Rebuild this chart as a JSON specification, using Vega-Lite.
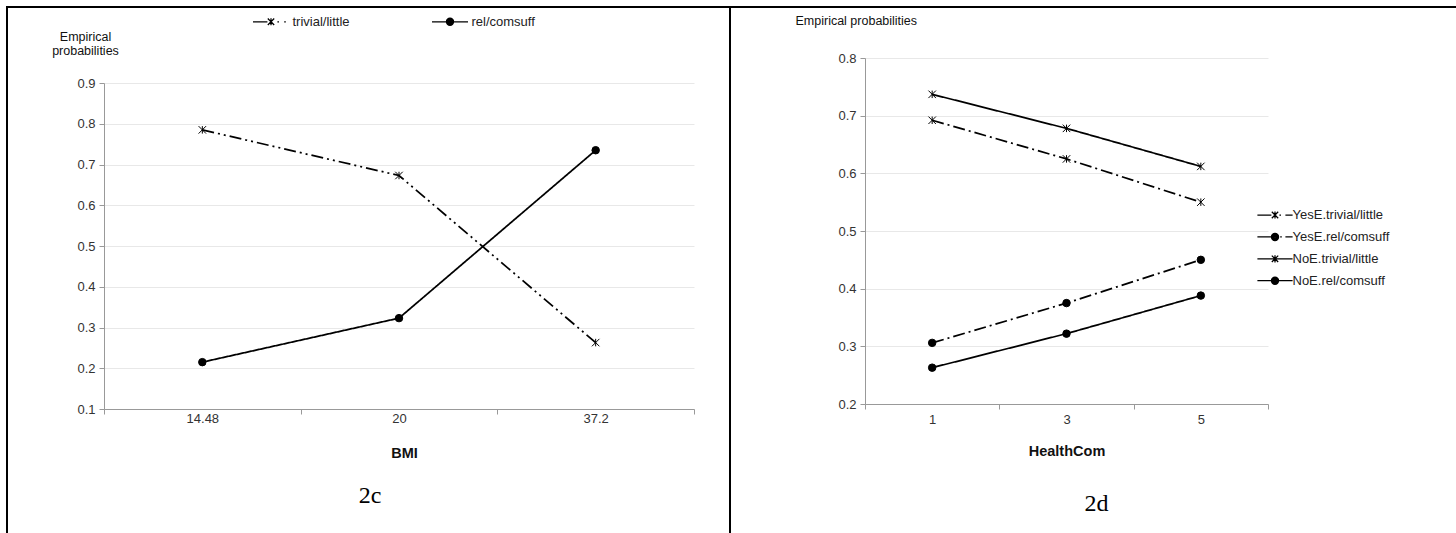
{
  "$schema": "https://vega.github.io/schema/vega-lite/v6.json",
  "background": "white",
  "padding": {"left": 6, "top": 6, "right": 0, "bottom": 0},
  "datasets": {
    "left": [
      {"BMI": 14.48, "series": "trivial/little", "p": 0.785},
      {"BMI": 20, "series": "trivial/little", "p": 0.673},
      {"BMI": 37.2, "series": "trivial/little", "p": 0.263},
      {"BMI": 14.48, "series": "rel/comsuff", "p": 0.215},
      {"BMI": 20, "series": "rel/comsuff", "p": 0.323},
      {"BMI": 37.2, "series": "rel/comsuff", "p": 0.735}
    ],
    "right": [
      {"HealthCom": 1, "group": "YesE.trivial/little", "p": 0.692},
      {"HealthCom": 3, "group": "YesE.trivial/little", "p": 0.625},
      {"HealthCom": 5, "group": "YesE.trivial/little", "p": 0.55},
      {"HealthCom": 1, "group": "YesE.rel/comsuff", "p": 0.306},
      {"HealthCom": 3, "group": "YesE.rel/comsuff", "p": 0.375},
      {"HealthCom": 5, "group": "YesE.rel/comsuff", "p": 0.45},
      {"HealthCom": 1, "group": "NoE.trivial/little", "p": 0.737},
      {"HealthCom": 3, "group": "NoE.trivial/little", "p": 0.678},
      {"HealthCom": 5, "group": "NoE.trivial/little", "p": 0.612},
      {"HealthCom": 1, "group": "NoE.rel/comsuff", "p": 0.263},
      {"HealthCom": 3, "group": "NoE.rel/comsuff", "p": 0.322},
      {"HealthCom": 5, "group": "NoE.rel/comsuff", "p": 0.388}
    ]
  },
  "config": {
    "view": {"stroke": null},
    "font": "Liberation Sans",
    "axis": {
      "labelFont": "Liberation Sans",
      "labelFontSize": 13,
      "labelColor": "#333333",
      "titleFont": "Liberation Sans",
      "titleColor": "#111111",
      "domainColor": "#999999",
      "tickColor": "#999999",
      "gridColor": "#e8e8e8",
      "tickSize": 5
    },
    "legend": {
      "labelFont": "Liberation Sans",
      "labelFontSize": 13,
      "labelColor": "#222222"
    }
  },
  "resolve": {"scale": {"strokeDash": "independent", "shape": "independent"}},
  "concat": [
    {"width": 2, "height": 2, "data": {"values": []}, "mark": "point", "view": {"fill": "black", "stroke": null}},
    {"width": 96, "height": 2, "data": {"values": []}, "mark": "point", "view": {"fill": "black", "stroke": null}},
    {"width": 590, "height": 2, "data": {"values": []}, "mark": "point", "view": {"fill": "black", "stroke": null}},
    {"width": 35, "height": 2, "data": {"values": []}, "mark": "point", "view": {"fill": "black", "stroke": null}},
    {"width": 2, "height": 2, "data": {"values": []}, "mark": "point", "view": {"fill": "black", "stroke": null}},
    {"width": 134, "height": 2, "data": {"values": []}, "mark": "point", "view": {"fill": "black", "stroke": null}},
    {"width": 403, "height": 2, "data": {"values": []}, "mark": "point", "view": {"fill": "black", "stroke": null}},
    {"width": 188, "height": 2, "data": {"values": []}, "mark": "point", "view": {"fill": "black", "stroke": null}},

    {"width": 2, "height": 525, "data": {"values": []}, "mark": "point", "view": {"fill": "black", "stroke": null}},
    {"width": 96, "height": 1, "data": {"values": []}, "mark": "point"},
    {
      "width": 590,
      "height": 401,
      "data": {"name": "left"},
      "title": {"text": "2c", "orient": "bottom", "font": "Liberation Serif", "fontSize": 24, "fontWeight": "normal", "color": "black", "anchor": "middle", "dx": -29, "offset": 24},
      "encoding": {
        "x": {
          "field": "BMI", "type": "ordinal",
          "scale": {"type": "band", "paddingInner": 0, "paddingOuter": 0},
          "axis": {"title": "BMI", "labelAngle": 0, "tickBand": "extent", "labelPadding": -2, "titlePadding": 21, "grid": false, "titleFontSize": 14.5, "titleFontWeight": "bold", "titleX": 300, "titleAlign": "center"}
        },
        "y": {
          "field": "p", "type": "quantitative",
          "scale": {"domain": [0.1, 0.9], "range": [401, 75], "nice": false, "zero": false},
          "axis": {
            "values": [0.1, 0.2, 0.3, 0.4, 0.5, 0.6, 0.7, 0.8, 0.9], "format": ".1f", "grid": true, "labelPadding": 4,
            "title": ["Empirical", "probabilities"], "titleAngle": 0, "titleAlign": "center", "titleBaseline": "top",
            "titleX": -19, "titleY": 22, "titleFontWeight": "normal", "titleFontSize": 12.5, "titleLineHeight": 14
          }
        }
      },
      "layer": [
        {
          "mark": {"type": "line", "color": "black", "strokeWidth": 1.75},
          "encoding": {
            "strokeDash": {"field": "series", "type": "nominal", "scale": {"domain": ["trivial/little", "rel/comsuff"], "range": [[12, 4, 2, 4, 2, 4], [1, 0]]}, "legend": null}
          }
        },
        {
          "mark": {"type": "point", "filled": true, "fill": "black", "stroke": "black", "strokeWidth": 1, "size": 56, "opacity": 1},
          "encoding": {
            "shape": {"field": "series", "type": "nominal", "scale": {"domain": ["trivial/little", "rel/comsuff"], "range": ["M-1,-1L1,1M-1,1L1,-1M0,-1V1", "circle"]}, "legend": null}
          }
        },
        {
          "data": {"values": []},
          "mark": {"type": "point", "filled": false, "stroke": "black", "strokeWidth": 1.25, "size": 64, "opacity": 1},
          "encoding": {
            "shape": {
              "field": "series", "type": "nominal",
              "scale": {"domain": ["trivial/little", "rel/comsuff"], "range": [
                "M-4.5,0H-0.9M-0.8,-0.8L0.8,0.8M-0.8,0.8L0.8,-0.8M0,-0.9V0.9M1.6,0H2M3.3,0H3.7",
                "M-4.5,0H4.5M0.9,0A0.9,0.9 0 1,1 -0.9,0A0.9,0.9 0 1,1 0.9,0ZM0.62,0A0.62,0.62 0 1,1 -0.62,0A0.62,0.62 0 1,1 0.62,0ZM0.35,0A0.35,0.35 0 1,1 -0.35,0A0.35,0.35 0 1,1 0.35,0ZM0.1,0A0.1,0.1 0 1,1 -0.1,0A0.1,0.1 0 1,1 0.1,0Z"
              ]},
              "legend": {"orient": "none", "legendX": 160.5, "legendY": 7, "direction": "horizontal", "title": null, "symbolSize": 64, "labelOffset": 15, "columnPadding": 79, "symbolOpacity": 1, "symbolStrokeWidth": 1.25, "symbolStrokeColor": "black"}
            }
          }
        }
      ],
      "resolve": {"scale": {"shape": "independent"}}
    },
    {"width": 35, "height": 1, "data": {"values": []}, "mark": "point"},
    {"width": 2, "height": 525, "data": {"values": []}, "mark": "point", "view": {"fill": "black", "stroke": null}},
    {"width": 134, "height": 1, "data": {"values": []}, "mark": "point"},
    {
      "width": 403,
      "height": 396,
      "data": {"name": "right"},
      "title": {"text": "2d", "orient": "bottom", "font": "Liberation Serif", "fontSize": 24, "fontWeight": "normal", "color": "black", "anchor": "middle", "dx": 30, "offset": 34},
      "encoding": {
        "x": {
          "field": "HealthCom", "type": "ordinal",
          "scale": {"type": "band", "paddingInner": 0, "paddingOuter": 0},
          "axis": {"title": "HealthCom", "labelAngle": 0, "tickBand": "extent", "labelPadding": 4, "titlePadding": 18, "grid": false, "titleFontSize": 14.5, "titleFontWeight": "bold"}
        },
        "y": {
          "field": "p", "type": "quantitative",
          "scale": {"domain": [0.2, 0.8], "range": [396, 50], "nice": false, "zero": false},
          "axis": {
            "values": [0.2, 0.3, 0.4, 0.5, 0.6, 0.7, 0.8], "format": ".1f", "grid": true, "labelPadding": 4,
            "title": "Empirical probabilities", "titleAngle": 0, "titleAlign": "left", "titleBaseline": "top",
            "titleX": -70, "titleY": 6, "titleFontWeight": "normal", "titleFontSize": 12.5
          }
        }
      },
      "layer": [
        {
          "mark": {"type": "line", "color": "black", "strokeWidth": 1.75},
          "encoding": {
            "strokeDash": {"field": "group", "type": "nominal", "scale": {"domain": ["YesE.trivial/little", "YesE.rel/comsuff", "NoE.trivial/little", "NoE.rel/comsuff"], "range": [[12, 4, 2, 4], [12, 4, 2, 4], [1, 0], [1, 0]]}, "legend": null}
          }
        },
        {
          "mark": {"type": "point", "filled": true, "fill": "black", "stroke": "black", "strokeWidth": 1, "size": 56, "opacity": 1},
          "encoding": {
            "shape": {"field": "group", "type": "nominal", "scale": {"domain": ["YesE.trivial/little", "YesE.rel/comsuff", "NoE.trivial/little", "NoE.rel/comsuff"], "range": ["M-1,-1L1,1M-1,1L1,-1M0,-1V1", "circle", "M-1,-1L1,1M-1,1L1,-1M0,-1V1", "circle"]}, "legend": null}
          }
        },
        {
          "data": {"values": []},
          "mark": {"type": "point", "filled": false, "stroke": "black", "strokeWidth": 1.25, "size": 64, "opacity": 1},
          "encoding": {
            "shape": {
              "field": "group", "type": "nominal",
              "scale": {"domain": ["YesE.trivial/little", "YesE.rel/comsuff", "NoE.trivial/little", "NoE.rel/comsuff"], "range": [
                "M-4.4,0H-0.9M-0.8,-0.8L0.8,0.8M-0.8,0.8L0.8,-0.8M0,-0.9V0.9M1.1,0H1.5M2.6,0H4.4",
                "M-4.4,0H-0.9M0.9,0A0.9,0.9 0 1,1 -0.9,0A0.9,0.9 0 1,1 0.9,0ZM0.62,0A0.62,0.62 0 1,1 -0.62,0A0.62,0.62 0 1,1 0.62,0ZM0.35,0A0.35,0.35 0 1,1 -0.35,0A0.35,0.35 0 1,1 0.35,0ZM0.1,0A0.1,0.1 0 1,1 -0.1,0A0.1,0.1 0 1,1 0.1,0ZM1.3,0H1.7M2.6,0H4.4",
                "M-4.4,0H4.4M-0.8,-0.8L0.8,0.8M-0.8,0.8L0.8,-0.8M0,-0.9V0.9",
                "M-4.4,0H4.4M0.9,0A0.9,0.9 0 1,1 -0.9,0A0.9,0.9 0 1,1 0.9,0ZM0.62,0A0.62,0.62 0 1,1 -0.62,0A0.62,0.62 0 1,1 0.62,0ZM0.35,0A0.35,0.35 0 1,1 -0.35,0A0.35,0.35 0 1,1 0.35,0ZM0.1,0A0.1,0.1 0 1,1 -0.1,0A0.1,0.1 0 1,1 0.1,0Z"
              ]},
              "legend": {"orient": "none", "legendX": 403.5, "legendY": 200.5, "direction": "vertical", "title": null, "symbolSize": 64, "labelOffset": 11, "rowPadding": 7.9, "symbolOpacity": 1, "symbolStrokeWidth": 1.25, "symbolStrokeColor": "black"}
            }
          }
        }
      ],
      "resolve": {"scale": {"shape": "independent"}}
    },
    {"width": 188, "height": 1, "data": {"values": []}, "mark": "point"}
  ],
  "columns": 8,
  "spacing": 0,
  "bounds": "flush",
  "align": "each"
}
